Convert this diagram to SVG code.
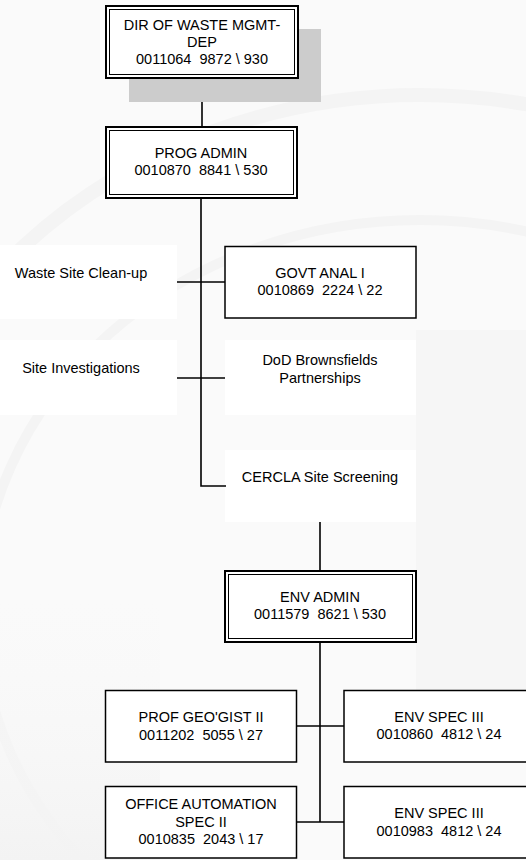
<svg xmlns="http://www.w3.org/2000/svg" width="526" height="860" viewBox="0 0 526 860">
  <style>
    .box { fill: #ffffff; stroke: #000000; stroke-width: 1.5; }
    .outer { fill: #ffffff; stroke: #000000; stroke-width: 2; }
    .inner { fill: none; stroke: #000000; stroke-width: 1; }
    .bg { fill: #ffffff; stroke: none; }
    .wire { fill: none; stroke: #000000; stroke-width: 1.6; }
    .wm { fill: none; stroke: #f4f4f4; }
    text { font-family: "Liberation Sans", Arial, sans-serif; font-size: 14.5px; fill: #000000; white-space: pre; }
    .c { text-anchor: middle; }
  </style>

  <defs>
    <linearGradient id="haze" x1="0" y1="0" x2="0" y2="1">
      <stop offset="0" stop-color="#f8f8f8" stop-opacity="0"/>
      <stop offset="1" stop-color="#f3f3f3" stop-opacity="1"/>
    </linearGradient>
  </defs>

  <!-- faint seal in the background -->
  <g id="seal">
    <rect x="0" y="0" width="526" height="860" fill="#fafafa"/>
    <ellipse class="wm" cx="420" cy="610" rx="560" ry="515" stroke-width="14"/>
    <ellipse class="wm" cx="420" cy="610" rx="440" ry="390" stroke-width="10"/>
    <rect x="0" y="600" width="160" height="260" fill="url(#haze)"/>
    <rect x="416" y="330" width="110" height="370" fill="#f6f6f6"/>
  </g>

  <!-- white label panels -->
  <g id="panels">
    <rect class="bg" x="0" y="245" width="177" height="74"/>
    <rect class="bg" x="0" y="340" width="177" height="75"/>
    <rect class="bg" x="225" y="340" width="191" height="75"/>
    <rect class="bg" x="225" y="450" width="191" height="72"/>
  </g>

  <!-- connectors -->
  <g id="connectors">
    <path class="wire" d="M202 79 V126"/>
    <path class="wire" d="M201 198 V486 H226"/>
    <path class="wire" d="M177 282 H225"/>
    <path class="wire" d="M177 378 H225"/>
    <path class="wire" d="M320 522 V570"/>
    <path class="wire" d="M320 642 V822"/>
    <path class="wire" d="M296 726 H344"/>
    <path class="wire" d="M296 822 H344"/>
  </g>

  <g id="dir-waste-mgmt">
    <rect x="129" y="29" width="192" height="73" fill="#cccccc"/>
    <rect class="outer" x="106" y="6" width="192" height="72"/>
    <rect class="inner" x="109.5" y="9.5" width="185" height="65"/>
    <text class="c" x="202" y="30">DIR OF WASTE MGMT-</text>
    <text class="c" x="202" y="47">DEP</text>
    <text class="c" x="202" y="64">0011064  9872 \ 930</text>
  </g>

  <g id="prog-admin">
    <rect class="outer" x="106" y="127" width="191" height="71"/>
    <rect class="inner" x="109.5" y="130.5" width="184" height="64"/>
    <text class="c" x="201" y="158">PROG ADMIN</text>
    <text class="c" x="201" y="175">0010870  8841 \ 530</text>
  </g>

  <g id="govt-anal">
    <rect class="box" x="225" y="246.5" width="191" height="71.5"/>
    <text class="c" x="320" y="278">GOVT ANAL I</text>
    <text class="c" x="320" y="295">0010869  2224 \ 22</text>
  </g>

  <g id="waste-site-cleanup">
    <text class="c" x="81" y="278">Waste Site Clean-up</text>
  </g>

  <g id="site-investigations">
    <text class="c" x="81" y="373">Site Investigations</text>
  </g>

  <g id="dod-brownsfields">
    <text class="c" x="320" y="365">DoD Brownsfields</text>
    <text class="c" x="320" y="383">Partnerships</text>
  </g>

  <g id="cercla">
    <text class="c" x="320" y="482">CERCLA Site Screening</text>
  </g>

  <g id="env-admin">
    <rect class="outer" x="225" y="571" width="191" height="71"/>
    <rect class="inner" x="228.5" y="574.5" width="184" height="64"/>
    <text class="c" x="320" y="602">ENV ADMIN</text>
    <text class="c" x="320" y="619">0011579  8621 \ 530</text>
  </g>

  <g id="prof-geogist">
    <rect class="box" x="105.5" y="690.5" width="191" height="71.5"/>
    <text class="c" x="201" y="722">PROF GEO'GIST II</text>
    <text class="c" x="201" y="740">0011202  5055 \ 27</text>
  </g>

  <g id="env-spec-1">
    <rect class="box" x="344" y="690.5" width="192" height="71.5"/>
    <text class="c" x="439" y="722">ENV SPEC III</text>
    <text class="c" x="439" y="739">0010860  4812 \ 24</text>
  </g>

  <g id="office-automation">
    <rect class="box" x="105.5" y="786.5" width="191" height="71.5"/>
    <text class="c" x="201" y="809">OFFICE AUTOMATION</text>
    <text class="c" x="201" y="827">SPEC II</text>
    <text class="c" x="201" y="844">0010835  2043 \ 17</text>
  </g>

  <g id="env-spec-2">
    <rect class="box" x="344" y="786.5" width="192" height="71.5"/>
    <text class="c" x="439" y="818">ENV SPEC III</text>
    <text class="c" x="439" y="836">0010983  4812 \ 24</text>
  </g>
</svg>
